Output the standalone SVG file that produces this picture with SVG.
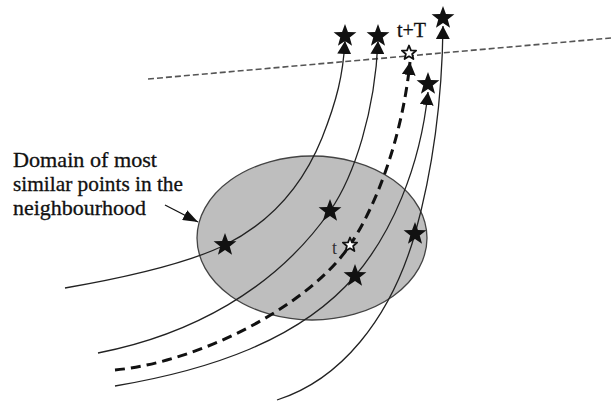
<svg xmlns="http://www.w3.org/2000/svg" xmlns:xlink="http://www.w3.org/1999/xlink" width="611" height="402" viewBox="0 0 611 402">
<style>
.bg{fill:#ffffff}
.dom{fill:#bebebe;stroke:#444;stroke-width:1.3}
.traj{fill:none;stroke:#222;stroke-width:1.3}
.trajd{fill:none;stroke:#111;stroke-width:3;stroke-dasharray:10,6}
.hor{fill:none;stroke:#555;stroke-width:1.6;stroke-dasharray:6,3}
.bstar{fill:#111}
.wstar{fill:#fff;stroke:#111;stroke-width:1.8;stroke-linejoin:round}
.lbl{font-family:"Liberation Serif","Times New Roman",serif;fill:#111;stroke:#111;stroke-width:0.3}
.ptr{fill:none;stroke:#111;stroke-width:1.3}
</style>
<defs>
<marker id="ah" markerUnits="userSpaceOnUse" markerWidth="14" markerHeight="14" refX="13" refY="7" orient="auto">
<path d="M0,0 L13,7 L0,14 Z" fill="#111"/>
</marker>
<marker id="ah2" markerUnits="userSpaceOnUse" markerWidth="15" markerHeight="11" refX="15" refY="5.5" orient="auto">
<path d="M0,0 L15,5.5 L0,11 Z" fill="#111"/>
</marker>
<path id="star" d="M0,-12 L2.94,-4.05 L11.41,-3.71 L4.76,1.55 L7.05,9.71 L0,5 L-7.05,9.71 L-4.76,1.55 L-11.41,-3.71 L-2.94,-4.05 Z"/>
<path id="sstar" d="M0,-7.5 L1.94,-2.67 L7.13,-2.32 L3.14,1.02 L4.41,6.07 L0,3.3 L-4.41,6.07 L-3.14,1.02 L-7.13,-2.32 L-1.94,-2.67 Z"/>
</defs>
<rect class="bg" x="0" y="0" width="611" height="402"/>

<g id="domain">
<ellipse class="dom" cx="312" cy="238" rx="115" ry="82"/>
</g>

<g id="horizon">
<line class="hor" x1="148" y1="79" x2="611" y2="38"/>
</g>

<g id="connectors">
<path id="traj1" class="traj" d="M65,288 C140,275 190,262 225,245 C275,220 305,180 322,138 C337,100 343,75 345,41" marker-end="url(#ah)"/>
<path id="traj2" class="traj" d="M98,353 C190,335 275,290 330,211 C355,175 375,110 378,41" marker-end="url(#ah)"/>
<path id="traj3" class="trajd" d="M115,370 C200,362 310,305 350,245 C375,208 402,140 410,62" marker-end="url(#ah)"/>
<path id="traj4" class="traj" d="M115,386 C210,370 300,340 355,276 C390,235 420,170 428,92" marker-end="url(#ah)"/>
<path id="traj5" class="traj" d="M277,400 C340,380 390,320 415,234 C430,180 442,110 443,26" marker-end="url(#ah)"/>
<line class="ptr" x1="165" y1="205" x2="198" y2="222" marker-end="url(#ah2)"/>
</g>

<g id="points">
<use xlink:href="#star" class="bstar" x="225" y="245"/>
<use xlink:href="#star" class="bstar" x="330" y="211"/>
<use xlink:href="#star" class="bstar" x="415" y="234"/>
<use xlink:href="#star" class="bstar" x="355" y="276"/>
<use xlink:href="#sstar" class="wstar" x="350" y="245"/>
</g>

<g id="futures">
<use xlink:href="#star" class="bstar" x="345" y="36"/>
<use xlink:href="#star" class="bstar" x="378" y="36"/>
<use xlink:href="#sstar" class="wstar" x="409" y="53"/>
<use xlink:href="#star" class="bstar" x="428" y="84"/>
<use xlink:href="#star" class="bstar" x="443" y="18"/>
</g>

<g id="labels">
<text class="lbl" x="397" y="37" font-size="20">t+T</text>
<text class="lbl" x="332" y="254" font-size="18" style="fill:#333;stroke:none">t</text>
<text class="lbl" x="13" y="167" font-size="21" textLength="144" lengthAdjust="spacingAndGlyphs">Domain of most</text>
<text class="lbl" x="13" y="191" font-size="21" textLength="170" lengthAdjust="spacingAndGlyphs">similar points in the</text>
<text class="lbl" x="13" y="215" font-size="21" textLength="133" lengthAdjust="spacingAndGlyphs">neighbourhood</text>
</g>
</svg>
